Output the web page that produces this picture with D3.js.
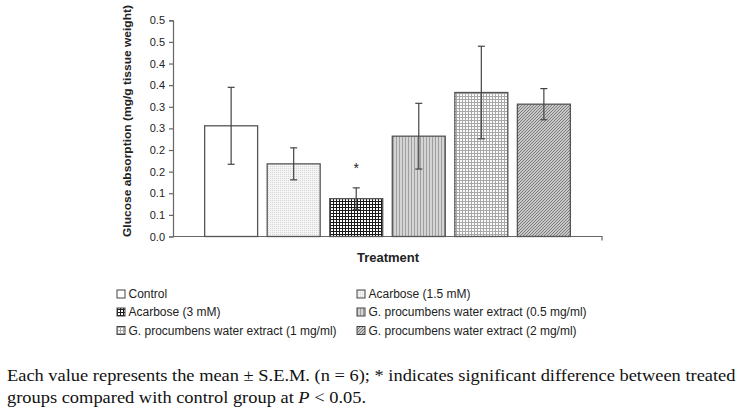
<!DOCTYPE html>
<html><head><meta charset="utf-8">
<script src="https://cdn.jsdelivr.net/npm/d3@7"></script>
<style>body{margin:0;background:#fff}svg{display:block}</style>
</head><body>
<svg id="c" width="741" height="412"></svg>
<script>
const categories = ["Control","Acarbose (1.5 mM)","Acarbose (3 mM)","G. procumbens water extract (0.5 mg/ml)","G. procumbens water extract (1 mg/ml)","G. procumbens water extract (2 mg/ml)"];
const means = [0.256, 0.168, 0.0875, 0.232, 0.333, 0.306];
const sems = [0.089, 0.037, 0.025, 0.076, 0.107, 0.036];
const significant = [false, false, true, false, false, false];
const tickValues = [0, 0.05, 0.1, 0.15, 0.2, 0.25, 0.3, 0.35, 0.4, 0.45, 0.5];
const tickLabels = ["0.0","0.1","0.1","0.2","0.2","0.3","0.3","0.4","0.4","0.5","0.5"];
const yTitle = "Glucose absorption (mg/g tissue weight)";
const xTitle = "Treatment";
const captionLine1 = "Each value represents the mean \u00b1 S.E.M. (n = 6); * indicates significant difference between treated";
const captionLine2a = "groups compared with control group at ";
const captionLine2b = "P";
const captionLine2c = " < 0.05.";

const svg = d3.select("#c");
const defs = svg.append("defs");
function pat(id, w, h, build){ const p = defs.append("pattern").attr("id", id).attr("patternUnits","userSpaceOnUse").attr("width", w).attr("height", h); build(p); }
pat("p0", 4, 4, p => { p.append("rect").attr("width",4).attr("height",4).attr("fill","#fff"); });
pat("p1", 2, 2, p => { p.append("rect").attr("width",2).attr("height",2).attr("fill","#f4f4f4"); p.append("rect").attr("width",1).attr("height",1).attr("fill","#d8d8d8"); });
pat("p2", 3, 3, p => { p.append("rect").attr("width",3).attr("height",3).attr("fill","#1a1a1a"); p.append("rect").attr("x",1).attr("y",1).attr("width",2).attr("height",2).attr("fill","#fff"); });
pat("p3", 3, 3, p => { p.append("rect").attr("width",3).attr("height",3).attr("fill","#d4d4d4"); p.append("rect").attr("width",1).attr("height",3).attr("fill","#a0a0a0"); });
pat("p4", 3, 3, p => { p.append("rect").attr("width",3).attr("height",3).attr("fill","#fbfbfb"); p.append("rect").attr("width",3).attr("height",1).attr("fill","#a8a8a8"); p.append("rect").attr("width",1).attr("height",3).attr("fill","#a8a8a8"); });
pat("p5", 3, 3, p => { p.append("rect").attr("width",3).attr("height",3).attr("fill","#e8e8e8"); p.append("path").attr("d","M-1,1 L1,-1 M0,3 L3,0 M2,4 L4,2").attr("stroke","#777").attr("stroke-width",1.1); });
const fills = ["url(#p0)","url(#p1)","url(#p2)","url(#p3)","url(#p4)","url(#p5)"];

const x0 = 173, x1 = 602, yTop = 20.3, yBot = 236.5;
const x = d3.scaleBand().domain(categories).range([x0, x1]).paddingInner(0.153).paddingOuter(0.506);
const y = d3.scaleLinear().domain([0, 0.5]).range([yBot, yTop]);
const axisColor = "#666", textColor = "#222";

const yAxis = d3.axisLeft(y).tickValues(tickValues).tickFormat((d,i) => tickLabels[i]).tickSize(4).tickPadding(4);
const gy = svg.append("g").attr("transform", `translate(${x0},0)`).call(yAxis);
gy.select(".domain").attr("stroke", axisColor).attr("stroke-width", 1.2);
gy.selectAll(".tick line").attr("stroke", axisColor).attr("stroke-width", 1.2);
gy.selectAll(".tick text").attr("fill", textColor).attr("font-family","Liberation Sans, Arial, sans-serif").attr("font-size", 11);

const xAxis = d3.axisBottom(x).tickValues([]).tickSizeOuter(4);
const gx = svg.append("g").attr("transform", `translate(0,${yBot})`).call(xAxis);
gx.select(".domain").attr("stroke", axisColor).attr("stroke-width", 1.2).attr("d", `M${x0},0H${x1}V4`);

svg.append("g").selectAll("rect").data(categories).join("rect")
  .attr("x", d => x(d)).attr("width", x.bandwidth())
  .attr("y", (d,i) => y(means[i])).attr("height", (d,i) => y(0) - y(means[i]))
  .attr("fill", (d,i) => fills[i]).attr("stroke", "#555").attr("stroke-width", 1.3);

const eb = svg.append("g").attr("stroke", "#444").attr("stroke-width", 1.2).attr("fill","none");
categories.forEach((c,i) => {
  const cx = x(c) + x.bandwidth()/2;
  const hi = y(means[i] + sems[i]), lo = y(means[i] - sems[i]);
  eb.append("line").attr("x1", cx).attr("x2", cx).attr("y1", hi).attr("y2", lo);
  eb.append("line").attr("x1", cx-3.5).attr("x2", cx+3.5).attr("y1", hi).attr("y2", hi);
  eb.append("line").attr("x1", cx-3.5).attr("x2", cx+3.5).attr("y1", lo).attr("y2", lo);
  if (significant[i]) {
    svg.append("text").attr("x", cx).attr("y", hi - 15).attr("text-anchor","middle")
      .attr("font-family","Liberation Sans, Arial, sans-serif").attr("font-size", 14).attr("fill", textColor).text("*");
  }
});

// y title: bold, compressed horizontally to fit the axis height
const yt = svg.append("text").attr("transform", "translate(131,121) rotate(-90)").attr("text-anchor","middle")
  .attr("font-family","Liberation Sans, Arial, sans-serif").attr("font-weight","bold").attr("font-size", 11.5).attr("fill", textColor)
  .attr("textLength", 232).attr("lengthAdjust","spacingAndGlyphs").text(yTitle);
svg.append("text").attr("x", 388).attr("y", 262).attr("text-anchor","middle")
  .attr("font-family","Liberation Sans, Arial, sans-serif").attr("font-weight","bold").attr("font-size", 13).attr("fill", textColor).text(xTitle);

const legX = [117, 357], legY = [294, 312, 330.5];
const lg = svg.append("g").attr("font-family","Liberation Sans, Arial, sans-serif").attr("font-size", 12).attr("fill", textColor);
categories.forEach((c,i) => {
  const col = i % 2, row = Math.floor(i / 2);
  lg.append("rect").attr("x", legX[col]).attr("y", legY[row] - 4).attr("width", 8).attr("height", 8)
    .attr("fill", fills[i]).attr("stroke", "#444").attr("stroke-width", 1);
  lg.append("text").attr("x", legX[col] + 11.5).attr("y", legY[row] + 4.3).text(c);
});

// caption: taller, horizontally condensed serif
const capFs = 17.5;
const cap = svg.append("g").attr("font-family","Liberation Serif, Times New Roman, serif").attr("fill","#111").attr("font-size", capFs);
const c1 = cap.append("text").attr("x", 0).attr("y", 381.5).text(captionLine1);
const k = 729 / c1.node().getComputedTextLength();
cap.attr("transform", `scale(${k},1)`);
c1.attr("x", 7 / k);
const c2 = cap.append("text").attr("x", 7 / k).attr("y", 403);
c2.append("tspan").text(captionLine2a);
c2.append("tspan").attr("font-style","italic").text(captionLine2b);
c2.append("tspan").text(captionLine2c);
</script>
</body></html>
